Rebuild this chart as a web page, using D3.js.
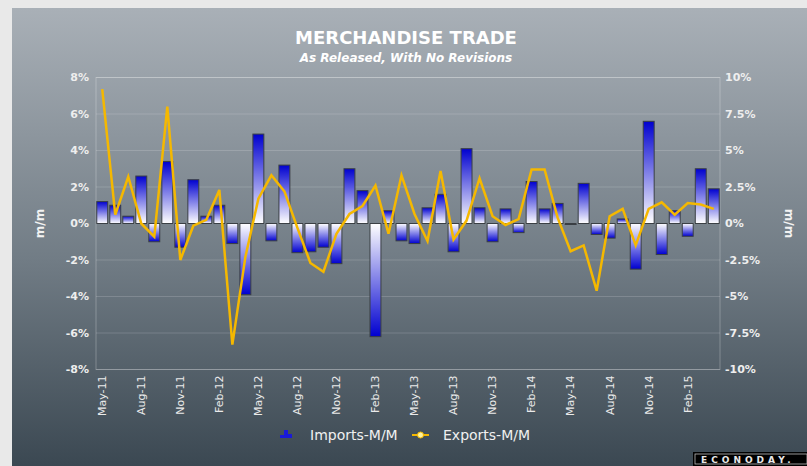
<!DOCTYPE html>
<html>
<head>
<meta charset="utf-8">
<script src="https://cdn.jsdelivr.net/npm/d3@7"></script>
<style>
  html, body { margin: 0; padding: 0; background: #e9e9e9; }
  svg { display: block; font-family: "DejaVu Sans", Verdana, sans-serif; }
  .grid-line { stroke: rgba(255,255,255,0.16); stroke-width: 1; }
  .tick-label { fill: #eeeeee; font-size: 11px; font-weight: bold; }
  .x-label { fill: #eaeaea; font-size: 11px; }
  .axis-title { fill: #f2f2f2; font-size: 12px; font-weight: bold; }
  .legend-text { fill: #f0f0f0; font-size: 14px; }
</style>
</head>
<body>
<svg id="chart" width="807" height="466"></svg>
<script>
/* =======================
   MERCHANDISE TRADE CHART
   ======================= */

const months = [
  "May-11","Jun-11","Jul-11","Aug-11","Sep-11","Oct-11","Nov-11","Dec-11",
  "Jan-12","Feb-12","Mar-12","Apr-12","May-12","Jun-12","Jul-12","Aug-12",
  "Sep-12","Oct-12","Nov-12","Dec-12","Jan-13","Feb-13","Mar-13","Apr-13",
  "May-13","Jun-13","Jul-13","Aug-13","Sep-13","Oct-13","Nov-13","Dec-13",
  "Jan-14","Feb-14","Mar-14","Apr-14","May-14","Jun-14","Jul-14","Aug-14",
  "Sep-14","Oct-14","Nov-14","Dec-14","Jan-15","Feb-15","Mar-15","Apr-15"
];

// Imports, m/m % (left axis)
const imports = [
  1.2, 1.0, 0.4, 2.6, -1.0, 3.4, -1.3, 2.4, 0.4, 1.0,
  -1.1, -3.9, 4.9, -0.95, 3.2, -1.6, -1.55, -1.3, -2.2, 3.0,
  1.8, -6.2, 0.7, -0.95, -1.1, 0.86, 1.6, -1.55, 4.1, 0.86,
  -1.0, 0.8, -0.5, 2.3, 0.8, 1.1, -0.05, 2.2, -0.6, -0.8,
  0.25, -2.5, 5.6, -1.7, 0.7, -0.7, 3.0, 1.9
];

// Exports, m/m % (right axis)
const exports = [
  9.2, 0.6, 3.2, 0.0, -0.9, 8.0, -2.5, -0.15, 0.25, 2.3,
  -8.3, -2.3, 1.7, 3.3, 2.2, -0.3, -2.7, -3.3, -0.7, 0.65,
  1.2, 2.6, -0.7, 3.3, 0.65, -1.2, 3.6, -1.1, 0.2, 3.1,
  0.5, -0.1, 0.3, 3.7, 3.7, 0.4, -1.9, -1.5, -4.6, 0.5,
  1.0, -1.5, 1.0, 1.45, 0.6, 1.4, 1.3, 1.0
];

const leftTicks = [-8, -6, -4, -2, 0, 2, 4, 6, 8];
const rightTicks = [-10, -7.5, -5, -2.5, 0, 2.5, 5, 7.5, 10];
const labelMonths = months.filter((d, i) => i % 3 === 0);

const W = 807, H = 466;
const plot = { left: 96, right: 720, top: 77.5, bottom: 369.5 };

const svg = d3.select("#chart");
const defs = svg.append("defs");

// Panel background
const bg = defs.append("linearGradient").attr("id", "bg")
  .attr("x1", 0).attr("y1", 0).attr("x2", 0).attr("y2", 1);
bg.append("stop").attr("offset", "0%").attr("stop-color", "#a9b0b7");
bg.append("stop").attr("offset", "55%").attr("stop-color", "#717c85");
bg.append("stop").attr("offset", "100%").attr("stop-color", "#3b4852");

// Bar gradients (blue at the far end, white at zero)
const gPos = defs.append("linearGradient").attr("id", "barPos")
  .attr("x1", 0).attr("y1", 0).attr("x2", 0).attr("y2", 1);
gPos.append("stop").attr("offset", "0%").attr("stop-color", "#0000d0");
gPos.append("stop").attr("offset", "100%").attr("stop-color", "#ffffff");
const gNeg = defs.append("linearGradient").attr("id", "barNeg")
  .attr("x1", 0).attr("y1", 0).attr("x2", 0).attr("y2", 1);
gNeg.append("stop").attr("offset", "0%").attr("stop-color", "#ffffff");
gNeg.append("stop").attr("offset", "100%").attr("stop-color", "#0000d0");

svg.append("rect")
  .attr("x", 12).attr("y", 8)
  .attr("width", W - 12).attr("height", H - 8)
  .attr("fill", "url(#bg)");

// Scales
const x = d3.scaleBand().domain(months)
  .range([plot.left, plot.right])
  .paddingInner(0.16).paddingOuter(0.06);
const yL = d3.scaleLinear().domain([-8, 8]).range([plot.bottom, plot.top]);
const yR = d3.scaleLinear().domain([-10, 10]).range([plot.bottom, plot.top]);

// Grid lines
leftTicks.forEach(t => {
  svg.append("line")
    .attr("class", "grid-line")
    .attr("x1", plot.left).attr("x2", plot.right)
    .attr("y1", yL(t)).attr("y2", yL(t));
});

// Plot frame
svg.append("rect")
  .attr("x", plot.left).attr("y", plot.top)
  .attr("width", plot.right - plot.left)
  .attr("height", plot.bottom - plot.top)
  .attr("fill", "none")
  .attr("stroke", "rgba(255,255,255,0.25)");

// Tick labels
svg.selectAll(".tick-left").data(leftTicks).enter()
  .append("text")
  .attr("class", "tick-label")
  .attr("x", 89).attr("y", d => yL(d))
  .attr("dy", "0.35em")
  .attr("text-anchor", "end")
  .text(d => d + "%");

svg.selectAll(".tick-right").data(rightTicks).enter()
  .append("text")
  .attr("class", "tick-label")
  .attr("x", 725).attr("y", d => yR(d))
  .attr("dy", "0.35em")
  .text(d => d + "%");

// Axis titles
svg.append("text")
  .attr("class", "axis-title")
  .attr("transform", `translate(40,${yL(0)}) rotate(-90)`)
  .attr("text-anchor", "middle")
  .attr("dy", "0.35em")
  .text("m/m");

svg.append("text")
  .attr("class", "axis-title")
  .attr("transform", `translate(789,${yL(0)}) rotate(90)`)
  .attr("text-anchor", "middle")
  .attr("dy", "0.35em")
  .text("m/m");

// Month labels
svg.selectAll(".x-label").data(labelMonths).enter()
  .append("text")
  .attr("class", "x-label")
  .attr("transform", d => `translate(${x(d) + x.bandwidth() / 2},${plot.bottom + 6}) rotate(-90)`)
  .attr("text-anchor", "end")
  .attr("dy", "0.35em")
  .text(d => d);

// Import bars
svg.selectAll(".bar").data(imports).enter()
  .append("rect")
  .attr("class", "bar")
  .attr("x", (d, i) => x(months[i]))
  .attr("width", x.bandwidth())
  .attr("y", d => d >= 0 ? yL(d) : yL(0))
  .attr("height", d => Math.max(1, Math.abs(yL(d) - yL(0))))
  .attr("fill", d => d >= 0 ? "url(#barPos)" : "url(#barNeg)")
  .attr("stroke", "#3a3f44")
  .attr("stroke-width", 1);

// Exports line
const line = d3.line()
  .x((d, i) => x(months[i]) + x.bandwidth() / 2)
  .y(d => yR(d));

svg.append("path")
  .datum(exports)
  .attr("d", line)
  .attr("fill", "none")
  .attr("stroke", "#f5b800")
  .attr("stroke-width", 2.5)
  .attr("stroke-linejoin", "miter");

// Title
svg.append("text")
  .attr("x", 406).attr("y", 44)
  .attr("text-anchor", "middle")
  .attr("fill", "#ffffff")
  .style("font-size", "18px").style("font-weight", "bold")
  .text("MERCHANDISE TRADE");

svg.append("text")
  .attr("x", 406).attr("y", 62)
  .attr("text-anchor", "middle")
  .attr("fill", "#ffffff")
  .style("font-size", "12px").style("font-weight", "bold").style("font-style", "italic")
  .text("As Released, With No Revisions");

// Legend
const legend = svg.append("g").attr("transform", "translate(0,435)");
[[280, 2, 5], [284, -3, 10], [288, 1, 6]].forEach(([lx, ly, lh]) => {
  legend.append("rect")
    .attr("x", lx).attr("y", ly - 2).attr("width", 4).attr("height", lh - 2)
    .attr("fill", "#1a1ad8");
});
legend.append("text").attr("class", "legend-text")
  .attr("x", 310).attr("dy", "0.35em").text("Imports-M/M");
legend.append("line")
  .attr("x1", 412).attr("x2", 429).attr("y1", 0).attr("y2", 0)
  .attr("stroke", "#f5b800").attr("stroke-width", 2);
legend.append("circle")
  .attr("cx", 420.5).attr("cy", 0).attr("r", 3)
  .attr("fill", "#fff3a0").attr("stroke", "#f5b800");
legend.append("text").attr("class", "legend-text")
  .attr("x", 443).attr("dy", "0.35em").text("Exports-M/M");

// Econoday badge
const badge = svg.append("g").attr("transform", "translate(693,452)");
badge.append("rect").attr("width", 114).attr("height", 14).attr("fill", "#000");
badge.append("rect").attr("x", 2).attr("y", 2).attr("width", 112).attr("height", 10)
  .attr("fill", "none").attr("stroke", "#bbbbbb").attr("stroke-width", 0.8);
badge.append("text")
  .attr("x", 8).attr("y", 11)
  .attr("fill", "#e8e8e8")
  .style("font-size", "9px").style("font-weight", "bold")
  .style("letter-spacing", "4px")
  .text("ECONODAY.");
</script>
</body>
</html>
